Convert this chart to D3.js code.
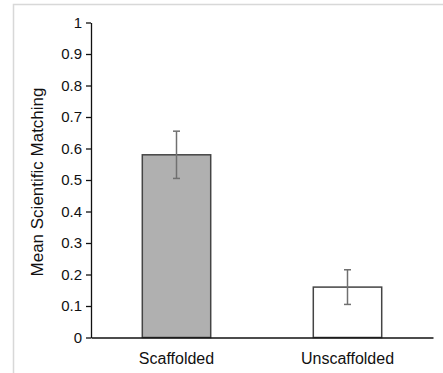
<!DOCTYPE html>
<html>
<head>
<meta charset="utf-8">
<script src="https://cdn.jsdelivr.net/npm/d3@7"></script>
<style>
  body { margin: 0; background: #fff; }
  text { font-family: Arial, "Liberation Sans", sans-serif; fill: #111; }
</style>
</head>
<body>
<script>
var categories = ["Scaffolded", "Unscaffolded"];
var means = [0.58, 0.16];
var errors = [0.075, 0.055];
var fills = ["#b0b0b0", "#ffffff"];
var yTicks = [0, 0.1, 0.2, 0.3, 0.4, 0.5, 0.6, 0.7, 0.8, 0.9, 1];

var W = 443, H = 373;
var svg = d3.select("body").append("svg")
    .attr("width", W)
    .attr("height", H);

// light frame of the original figure panel
svg.append("path")
    .attr("d", "M13.5,373 V4.5 H443")
    .attr("fill", "none")
    .attr("stroke", "#d8d8d8")
    .attr("stroke-width", 1.5);

var x = d3.scaleBand()
    .domain(categories)
    .range([91, 433])
    .paddingInner(0.6)
    .paddingOuter(0.3);

var y = d3.scaleLinear()
    .domain([0, 1])
    .range([337.5, 22.5]);

var data = categories.map(function(c, i) {
    return {name: c, mean: means[i], err: errors[i], fill: fills[i]};
});

// bars
svg.selectAll(".bar")
    .data(data)
    .enter().append("rect")
    .attr("class", "bar")
    .attr("x", function(d) { return x(d.name); })
    .attr("y", function(d) { return y(d.mean); })
    .attr("width", x.bandwidth())
    .attr("height", function(d) { return y(0) - y(d.mean); })
    .attr("fill", function(d) { return d.fill; })
    .attr("stroke", "#444")
    .attr("stroke-width", 1.5);

// error bars
var eb = svg.selectAll(".err")
    .data(data)
    .enter().append("g")
    .attr("class", "err")
    .attr("stroke", "#707070")
    .attr("stroke-width", 1.5);

eb.append("line")
    .attr("x1", function(d) { return x(d.name) + x.bandwidth() / 2; })
    .attr("x2", function(d) { return x(d.name) + x.bandwidth() / 2; })
    .attr("y1", function(d) { return y(d.mean - d.err); })
    .attr("y2", function(d) { return y(d.mean + d.err); });

[-1, 1].forEach(function(s) {
    eb.append("line")
        .attr("x1", function(d) { return x(d.name) + x.bandwidth() / 2 - 3.5; })
        .attr("x2", function(d) { return x(d.name) + x.bandwidth() / 2 + 3.5; })
        .attr("y1", function(d) { return y(d.mean + s * d.err); })
        .attr("y2", function(d) { return y(d.mean + s * d.err); });
});

// y axis
var yAxis = svg.append("g")
    .attr("transform", "translate(91,0)")
    .call(d3.axisLeft(y).tickValues(yTicks).tickSize(5).tickSizeOuter(0)
        .tickFormat(function(d) { return d3.format("")(d); }));
yAxis.select(".domain").attr("stroke", "#111").attr("stroke-width", 1.3);
yAxis.selectAll(".tick line").attr("stroke", "#111").attr("stroke-width", 1.3);
yAxis.selectAll(".tick text")
    .attr("x", -9)
    .style("font-size", "15px")
    .style("font-family", "Arial, 'Liberation Sans', sans-serif")
    .attr("fill", "#111");

// x axis
var xAxis = svg.append("g")
    .attr("transform", "translate(0," + y(0) + ")")
    .call(d3.axisBottom(x).tickSize(0).tickSizeOuter(0));
xAxis.select(".domain").attr("stroke", "#111").attr("stroke-width", 1.3);
xAxis.selectAll(".tick text")
    .attr("dy", "0")
    .attr("y", 26)
    .style("font-size", "16px")
    .style("font-family", "Arial, 'Liberation Sans', sans-serif")
    .attr("fill", "#111");

// y label
svg.append("text")
    .attr("transform", "translate(43,182) rotate(-90)")
    .attr("text-anchor", "middle")
    .style("font-size", "17px")
    .text("Mean Scientific Matching");
</script>
</body>
</html>
